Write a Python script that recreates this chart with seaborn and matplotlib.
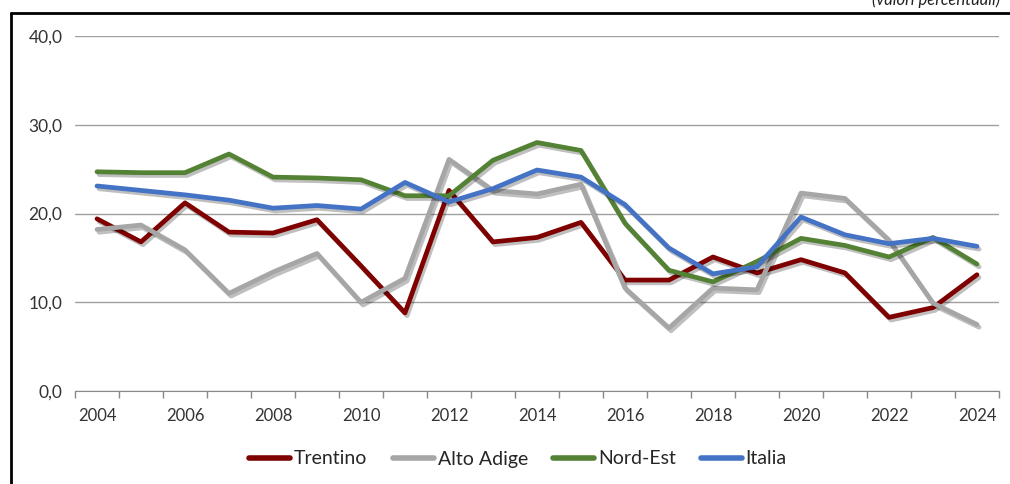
import seaborn as sns
import matplotlib.pyplot as plt
import matplotlib.patheffects as pe
from matplotlib.lines import Line2D
from matplotlib.ticker import FuncFormatter
import pandas as pd

years = list(range(2004, 2025))
trentino = [19.4, 16.8, 21.2, 17.9, 17.8, 19.3, 14.1, 8.8, 22.6, 16.8, 17.3,
            19.0, 12.5, 12.5, 15.1, 13.3, 14.8, 13.3, 8.3, 9.4, 13.1]
alto_adige = [18.2, 18.7, 15.9, 11.0, 13.4, 15.5, 10.0, 12.7, 26.1, 22.6, 22.2,
              23.3, 11.6, 7.1, 11.6, 11.4, 22.3, 21.7, 17.0, 9.9, 7.5]
nord_est = [24.7, 24.6, 24.6, 26.7, 24.1, 24.0, 23.8, 22.0, 22.0, 26.0, 28.0,
            27.1, 18.9, 13.6, 12.3, 14.6, 17.2, 16.4, 15.1, 17.3, 14.3]
italia = [23.1, 22.6, 22.1, 21.5, 20.6, 20.9, 20.5, 23.5, 21.3, 22.8, 24.9,
          24.1, 21.0, 16.1, 13.2, 14.0, 19.6, 17.6, 16.6, 17.2, 16.3]
series = ["Trentino", "Alto Adige", "Nord-Est", "Italia"]
colors = ["#7F0000", "#A6A6A6", "#548235", "#4472C4"]

df = pd.DataFrame({"anno": years, "Trentino": trentino, "Alto Adige": alto_adige,
                   "Nord-Est": nord_est, "Italia": italia})
long = df.melt(id_vars="anno", var_name="serie", value_name="valore")

sns.set_style("white")
plt.rcParams["font.family"] = ["Lato", "DejaVu Sans"]

fig = plt.figure(figsize=(10.1, 4.84), dpi=100)
ax = fig.add_axes([75 / 1010, 93 / 484, 924 / 1010, 355 / 484])

sns.lineplot(data=long, x="anno", y="valore", hue="serie", hue_order=series,
             palette=colors, linewidth=3.4, ax=ax, legend=False)
for line in ax.lines:
    line.set_path_effects([pe.SimpleLineShadow(offset=(1.5, -2), alpha=0.25, shadow_color="black"),
                           pe.Normal()])
    line.set_solid_capstyle("round")

ax.set_xlim(2003.5, 2024.5)
ax.set_ylim(0, 40)
ax.set_yticks([0, 10, 20, 30, 40])
ax.yaxis.set_major_formatter(FuncFormatter(lambda v, p: f"{v:.1f}".replace(".", ",")))
ax.grid(True, axis="y", color="#A0A0A0", linewidth=1)
ax.set_axisbelow(True)
ax.set_xticks(years[::2])
ax.set_xticks([y - 0.5 for y in years] + [2024.5], minor=True)
ax.tick_params(axis="x", which="major", length=0, pad=12, labelsize=12, colors="#333333")
ax.tick_params(axis="x", which="minor", length=5, width=1, color="#888888", bottom=True)
ax.tick_params(axis="y", length=0, pad=9, labelsize=12.5, colors="#333333")
for s in ["top", "right", "left"]:
    ax.spines[s].set_visible(False)
ax.spines["bottom"].set_color("#888888")
ax.set_xlabel("")
ax.set_ylabel("")

handles = [Line2D([0], [0], color=c, lw=4, solid_capstyle="round") for c in colors]
fig.legend(handles, series, loc="center", bbox_to_anchor=(0.513, 1 - 459 / 484), ncol=4,
           frameon=False, fontsize=14, handlelength=2.1, handletextpad=0.2, columnspacing=1.3)

# frame of the picture
fig.add_artist(Line2D([11 / 1010, 11 / 1010], [0, 1 - 13 / 484], color="black", lw=2,
                      transform=fig.transFigure))
fig.add_artist(Line2D([11 / 1010, 1], [1 - 13 / 484, 1 - 13 / 484], color="black", lw=2,
                      transform=fig.transFigure))
fig.text(0.99, 1.0, "(valori percentuali)", ha="right", va="center", style="italic",
         fontsize=12, color="#222222")

fig.savefig("out.png", dpi=100)
